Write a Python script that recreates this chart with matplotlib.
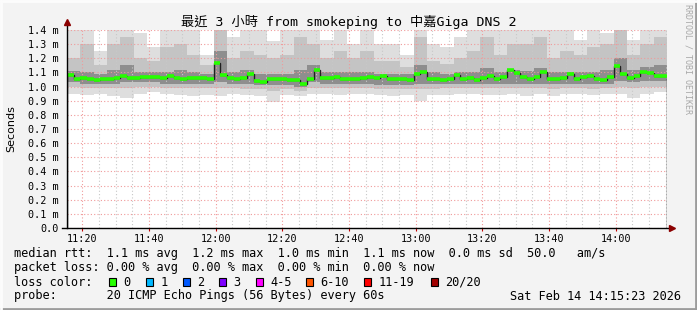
import numpy as np
import matplotlib
matplotlib.use("Agg")
import matplotlib.pyplot as plt

# ---- data (minutes since 11:15:23, 2-min median steps, 4-min smoke steps) ----
median_ms = [1.085, 1.056, 1.058, 1.051, 1.047, 1.051, 1.056, 1.063, 1.078, 1.063,
             1.058, 1.068, 1.068, 1.066, 1.063, 1.075, 1.060, 1.056, 1.058, 1.060,
             1.063, 1.056, 1.170, 1.080, 1.061, 1.051, 1.058, 1.090, 1.040, 1.033,
             1.051, 1.051, 1.056, 1.047, 1.045, 1.021, 1.056, 1.120, 1.063, 1.061,
             1.068, 1.051, 1.056, 1.056, 1.058, 1.068, 1.063, 1.075, 1.056, 1.051,
             1.051, 1.045, 1.087, 1.100, 1.051, 1.056, 1.047, 1.056, 1.080, 1.056,
             1.063, 1.047, 1.063, 1.075, 1.056, 1.066, 1.115, 1.094, 1.066, 1.051,
             1.068, 1.100, 1.056, 1.051, 1.058, 1.087, 1.051, 1.068, 1.075, 1.051,
             1.047, 1.066, 1.146, 1.087, 1.063, 1.078, 1.106, 1.094, 1.078, 1.075]

top_light = [1.40, 1.40, 1.25, 1.40, 1.40, 1.38, 1.28, 1.40, 1.40, 1.40, 1.22,
             1.40, 1.35, 1.40, 1.40, 1.32, 1.40, 1.40, 1.40, 1.33, 1.40, 1.30,
             1.40, 1.30, 1.30, 1.22, 1.40, 1.30, 1.28, 1.35, 1.40, 1.40, 1.40, 1.40,
             1.40, 1.40, 1.40, 1.40, 1.33, 1.40, 1.38, 1.40, 1.33, 1.40, 1.40]
top_mid = [1.20, 1.30, 1.15, 1.30, 1.35, 1.20, 1.18, 1.28, 1.30, 1.22, 1.15,
           1.40, 1.20, 1.25, 1.22, 1.20, 1.22, 1.35, 1.30, 1.20, 1.25, 1.20,
           1.25, 1.18, 1.18, 1.14, 1.35, 1.18, 1.16, 1.20, 1.25, 1.35, 1.22, 1.30,
           1.30, 1.35, 1.20, 1.25, 1.22, 1.28, 1.30, 1.40, 1.22, 1.30, 1.35]
top_dark = [1.11, 1.10, 1.09, 1.12, 1.15, 1.10, 1.10, 1.10, 1.12, 1.10, 1.09,
            1.25, 1.10, 1.12, 1.09, 1.09, 1.09, 1.12, 1.15, 1.10, 1.10, 1.10,
            1.10, 1.09, 1.09, 1.09, 1.15, 1.10, 1.09, 1.10, 1.10, 1.13, 1.10, 1.12,
            1.11, 1.13, 1.10, 1.10, 1.10, 1.10, 1.12, 1.20, 1.12, 1.14, 1.15]
bot_dark = [1.03, 1.02, 1.02, 1.02, 1.03, 1.03, 1.03, 1.02, 1.02, 1.02, 1.02,
            1.03, 1.02, 1.02, 1.01, 1.01, 1.01, 1.00, 1.03, 1.02, 1.02, 1.02,
            1.02, 1.01, 1.01, 1.01, 1.02, 1.02, 1.02, 1.02, 1.02, 1.02, 1.02, 1.02,
            1.02, 1.02, 1.02, 1.02, 1.02, 1.02, 1.02, 1.04, 1.03, 1.04, 1.04]
bot_mid = [1.00, 0.99, 0.99, 0.99, 0.99, 1.00, 1.00, 0.99, 0.99, 0.99, 0.99,
           0.99, 0.99, 0.98, 0.98, 0.97, 0.98, 0.97, 0.99, 0.99, 0.99, 0.99,
           0.99, 0.98, 0.98, 0.98, 0.98, 0.98, 0.99, 0.99, 0.99, 0.99, 0.99, 0.99,
           0.99, 0.99, 0.98, 0.99, 0.99, 0.98, 0.99, 1.00, 0.99, 1.00, 1.00]
bot_light = [0.95, 0.94, 0.95, 0.93, 0.92, 0.95, 0.96, 0.95, 0.94, 0.93, 0.94,
             0.93, 0.95, 0.94, 0.93, 0.89, 0.94, 0.93, 0.95, 0.95, 0.94, 0.95,
             0.95, 0.94, 0.93, 0.94, 0.90, 0.94, 0.94, 0.95, 0.95, 0.94, 0.94, 0.95,
             0.93, 0.95, 0.93, 0.95, 0.95, 0.94, 0.95, 0.95, 0.92, 0.95, 0.96]

x_tick_labels = ["11:20", "11:40", "12:00", "12:20", "12:40",
                 "13:00", "13:20", "13:40", "14:00"]
y_tick_values = [0.0, 0.1, 0.2, 0.3, 0.4, 0.5, 0.6, 0.7, 0.8, 0.9, 1.0, 1.1, 1.2, 1.3, 1.4]
y_tick_labels = ["0.0"] + ["%.1f m" % v for v in y_tick_values[1:]]

loss_labels = ["0", "1", "2", "3", "4-5", "6-10", "11-19", "20/20"]
loss_colors = ["#26ff00", "#00b8ff", "#0059ff", "#7e00ff",
               "#ff00ff", "#ff5500", "#ff0000", "#a10000"]

title = "最近 3 小時 from smokeping to 中嘉Giga DNS 2"
line_rtt = "median rtt:  1.1 ms avg  1.2 ms max  1.0 ms min  1.1 ms now  0.0 ms sd  50.0   am/s"
line_loss = "packet loss: 0.00 % avg  0.00 % max  0.00 % min  0.00 % now"
line_probe = "probe:       20 ICMP Echo Pings (56 Bytes) every 60s"
stamp = "Sat Feb 14 14:15:23 2026"

# ---- figure ----
W, H = 697, 310
MONO = "DejaVu Sans Mono"
fig = plt.figure(figsize=(W / 100, H / 100), dpi=100, facecolor="#f3f3f3")
ax = fig.add_axes([67 / W, (H - 228) / H, 600 / W, 198 / H])
ax.set_facecolor("white")

med_edges = np.arange(len(median_ms) + 1) * 2.0
smoke_edges = np.arange(len(top_light) + 1) * 4.0

ax.stairs(top_light, smoke_edges, baseline=bot_light, fill=True, color="#dedede", lw=0, zorder=1)
ax.stairs(top_mid, smoke_edges, baseline=bot_mid, fill=True, color="#c4c4c4", lw=0, zorder=1.1)
ax.stairs(top_dark, smoke_edges, baseline=bot_dark, fill=True, color="#8e8e8e", lw=0, zorder=1.2)

ax.stairs(median_ms, med_edges, color="#202020", lw=1, zorder=3)
ax.hlines(median_ms, med_edges[:-1], med_edges[1:], color="#26ff00", lw=2.6, zorder=3.1)

ax.set_xlim(0, 180)
ax.set_ylim(0, 1.4)

first = 4 + 37 / 60  # 11:20 relative to 11:15:23
ax.set_xticks([first + 20 * i for i in range(len(x_tick_labels))])
ax.set_xticklabels(x_tick_labels, family=MONO, fontsize=7.3)
ax.set_xticks([first + 5 * i for i in range(36)], minor=True)
ax.set_yticks(y_tick_values)
ax.set_yticklabels(y_tick_labels, family=MONO, fontsize=7.3)
ax.tick_params(axis="y", length=0, pad=6)
ax.tick_params(axis="x", which="major", length=2, pad=2, color="#c00000")
ax.tick_params(axis="x", which="minor", length=0)

ax.set_axisbelow(False)
ax.grid(True, which="minor", axis="x", color="#c8c8c8", lw=0.8, ls=(0, (1, 2)), zorder=2)
ax.grid(True, which="major", axis="both", color="#f09a9a", lw=0.8, ls=(0, (1, 2)), zorder=2.1)

for s in ax.spines.values():
    s.set_visible(False)
ax.plot([-5 / 600, 1.005], [0, 0], transform=ax.transAxes, color="black", lw=1, clip_on=False, zorder=5)
ax.plot([0, 0], [0, 1.035], transform=ax.transAxes, color="black", lw=1, clip_on=False, zorder=5)
ax.plot([1.008], [0], marker=">", ms=4, color="#8b0000", transform=ax.transAxes, clip_on=False, zorder=6)
ax.plot([0], [1.04], marker="^", ms=4, color="#8b0000", transform=ax.transAxes, clip_on=False, zorder=6)

# ---- texts ----
def fx(px):
    return px / W

def fy(py):
    return 1 - py / H

fig.text(fx(11), fy(129), "Seconds", rotation=90, ha="center", va="center", fontsize=8)
fig.text(fx(349), fy(22), title, ha="center", va="center", fontsize=9.5,
         family=[MONO, "Noto Sans CJK TC"])
fig.text(fx(688), fy(4), "RRDTOOL / TOBI OETIKER", rotation=-90, ha="center", va="top",
         fontsize=6, family=MONO, color="#a8a8a8")

cw = 7.15
x0 = 14
fig.text(fx(x0), fy(254), line_rtt, ha="left", va="center", fontsize=8.55, family=MONO)
fig.text(fx(x0), fy(268), line_loss, ha="left", va="center", fontsize=8.55, family=MONO)
fig.text(fx(x0), fy(282), "loss color:", ha="left", va="center", fontsize=8.55, family=MONO)
fig.text(fx(x0), fy(296), line_probe, ha="left", va="center", fontsize=8.55, family=MONO)
fig.text(fx(681), fy(296), stamp, ha="right", va="center", fontsize=8.55, family=MONO)

box_cols = [13.3, 18.5, 23.6, 28.7, 33.8, 40.9, 49.0, 58.3]
for col, lab, c in zip(box_cols, loss_labels, loss_colors):
    bx = x0 + col * cw
    fig.patches.append(plt.Rectangle((fx(bx), fy(286)), 7 / W, 8 / H, transform=fig.transFigure,
                                     facecolor=c, edgecolor="black", lw=0.8))
    fig.text(fx(bx + 2 * cw), fy(282), lab, ha="left", va="center", fontsize=8.55, family=MONO)

# border shading
fig.add_artist(plt.Line2D([0, 1], [1 / H, 1 / H], color="#9c9c9c", lw=2, transform=fig.transFigure))
fig.add_artist(plt.Line2D([1 - 1 / W, 1 - 1 / W], [0, 1], color="#9c9c9c", lw=2, transform=fig.transFigure))
fig.add_artist(plt.Line2D([0, 1], [1 - 1 / H, 1 - 1 / H], color="#fcfcfc", lw=2, transform=fig.transFigure))
fig.add_artist(plt.Line2D([1 / W, 1 / W], [0, 1], color="#fcfcfc", lw=2, transform=fig.transFigure))

fig.savefig("out.png", dpi=100, facecolor=fig.get_facecolor())
